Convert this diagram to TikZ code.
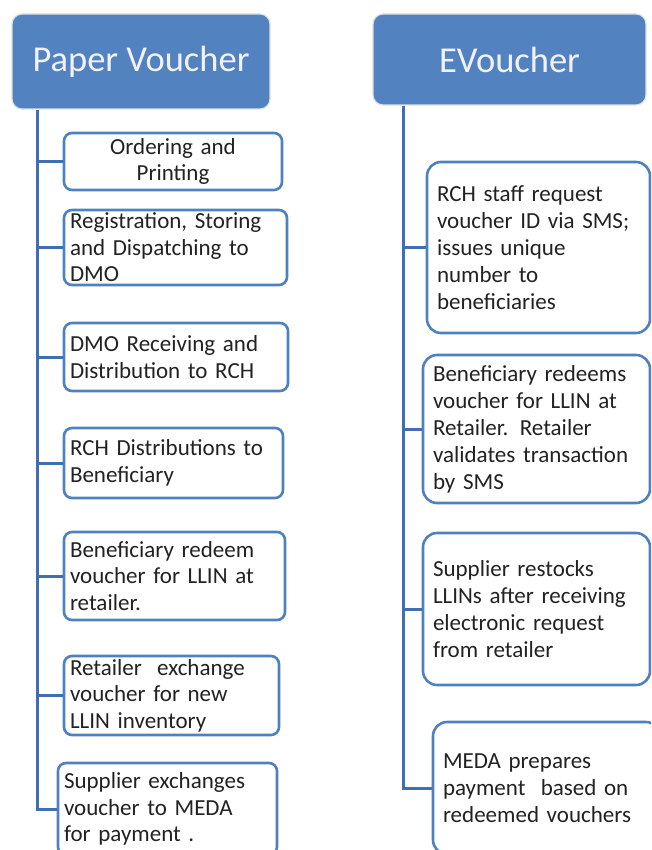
\documentclass[tikz,border=0pt]{standalone}
\usepackage{fontspec}
\setmainfont{Carlito}
\definecolor{hblue}{HTML}{5283C0}
\definecolor{bblue}{HTML}{4F81BD}
\definecolor{tblue}{HTML}{3F6FAE}
\definecolor{txt}{HTML}{222222}
\begin{document}
\begin{tikzpicture}[x=1pt,y=-1pt,
  header/.style={fill=hblue, draw=black!12, line width=1.2pt, rounded corners=10pt,
    text=white!95!blue, font=\fontsize{36.5}{40}\selectfont, anchor=center, inner sep=0pt},
  lbox/.style={draw=bblue, line width=2.6pt, rounded corners=8pt, fill=white,
    inner xsep=6pt, inner ysep=0pt, align=left, text=txt,
    font=\fontsize{23}{26.5}\selectfont, anchor=center},
  rbox/.style={draw=bblue, line width=2.6pt, rounded corners=14pt, fill=white,
    inner xsep=10pt, inner ysep=0pt, align=left, text=txt,
    font=\fontsize{23}{27}\selectfont, anchor=center},
  trunk/.style={draw=tblue, line width=3pt}]
\useasboundingbox (0,0) rectangle (651,850);
\clip (0,0) rectangle (651,850);
\fill[white] (0,0) rectangle (651,850);

% headers
\node[header, minimum width=258pt, minimum height=95pt] (LH) at (141,61.5) {Paper Voucher};
\node[header, minimum width=273pt, minimum height=91pt] (RH) at (509.5,59.5) {EVoucher};

\coordinate (lx) at (37,0);
\coordinate (rx) at (403,0);

% left boxes
\node[lbox, align=center, minimum width=218pt, text width=206pt, minimum height=57pt] (L1) at (173,161.5) {Ordering and\\Printing};
\node[lbox, minimum width=223pt, text width=211pt, minimum height=75pt] (L2) at (175.5,247.5) {Registration, Storing\\and Dispatching to\\DMO};
\node[lbox, minimum width=224pt, text width=212pt, minimum height=68pt] (L3) at (176,357) {DMO Receiving and\\Distribution to RCH};
\node[lbox, minimum width=219pt, text width=207pt, minimum height=70pt] (L4) at (173.5,463) {RCH Distributions to\\Beneficiary};
\node[lbox, minimum width=221pt, text width=209pt, minimum height=88pt] (L5) at (174.5,576) {Beneficiary redeem\\voucher for LLIN at\\retailer.};
\node[lbox, minimum width=215pt, text width=203pt, minimum height=79pt] (L6) at (171.5,695.5) {Retailer\ \ exchange\\voucher for new\\LLIN inventory};
\node[lbox, minimum width=219pt, text width=207pt, minimum height=92pt] (L7) at (167.5,809) {Supplier exchanges\\voucher to MEDA\\for payment .};

% right boxes
\node[rbox, minimum width=223pt, text width=203pt, minimum height=171pt] (R1) at (538.5,247.5) {RCH staff request\\voucher ID via SMS;\\issues unique\\number to\\beneficiaries};
\node[rbox, minimum width=227pt, text width=207pt, minimum height=148pt] (R2) at (536.5,429) {Beneficiary redeems\\voucher for LLIN at\\Retailer. Retailer\\validates transaction\\by SMS};
\node[rbox, minimum width=227pt, text width=207pt, minimum height=152pt] (R3) at (536.5,609) {Supplier restocks\\LLINs after receiving\\electronic request\\from retailer};
\node[rbox, minimum width=227pt, text width=207pt, minimum height=132pt] (R4) at (546.5,788) {MEDA prepares\\payment\ \ based on\\redeemed vouchers};

% left connectors
\draw[trunk] (LH.south -| lx) |- (L7.west);
\foreach \n in {L1,L2,L3,L4,L5,L6}{
  \draw[trunk] (lx |- \n.west) -- (\n.west);
}
% right connectors
\draw[trunk] (RH.south -| rx) |- (R4.west);
\foreach \n in {R1,R2,R3}{
  \draw[trunk] (rx |- \n.west) -- (\n.west);
}
\end{tikzpicture}
\end{document}
